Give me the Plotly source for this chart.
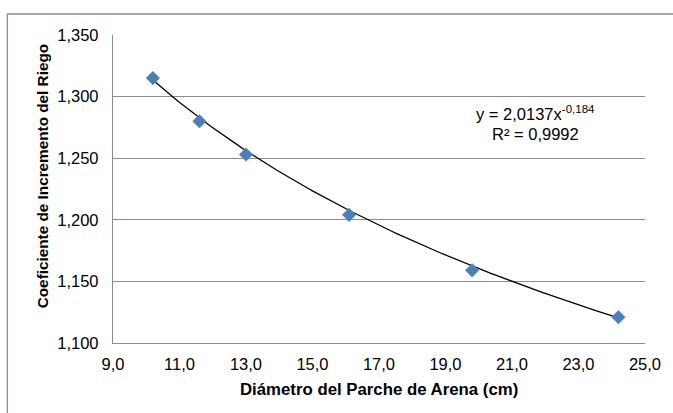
import numpy as np
import plotly.graph_objects as go

# Data
diametro = [10.2, 11.6, 13.0, 16.1, 19.8, 24.2]
coeficiente = [1.315, 1.280, 1.253, 1.204, 1.159, 1.121]

# Power trendline coefficients (y = a * x^b)
fit_a = 2.0137
fit_b = -0.184
r2_text = "R² = 0,9992"
eq_text = "y = 2,0137x<sup>-0,184</sup>"
x_title = "<b>Diámetro del Parche de Arena (cm)</b>"
y_title = "<b>Coeficiente de Incremento del Riego</b>"

x_ticks = [9, 11, 13, 15, 17, 19, 21, 23, 25]
y_ticks = [1.10, 1.15, 1.20, 1.25, 1.30, 1.35]

x_fit = np.linspace(min(diametro), max(diametro), 200)
y_fit = fit_a * x_fit ** fit_b

font_family = "Liberation Sans, Arial, sans-serif"
FS = 16.5
L, R, T, B = 113, 647, 35, 343
PW, PH = R - L, B - T

def px(xp):
    return (xp - L) / PW

def py(yp):
    return (B - yp) / PH

fig = go.Figure()
fig.add_trace(go.Scatter(
    x=x_fit, y=y_fit, mode="lines",
    line=dict(color="black", width=1.3),
    hoverinfo="skip", showlegend=False,
))
fig.add_trace(go.Scatter(
    x=diametro, y=coeficiente, mode="markers",
    marker=dict(symbol="diamond", size=10.5, color="#4a7ebb",
                line=dict(color="#5b8bc5", width=0.5)),
    showlegend=False,
))

fig.update_layout(
    width=673, height=413,
    margin=dict(l=L, r=673 - R, t=T, b=413 - B),
    paper_bgcolor="white", plot_bgcolor="white",
    separators=",.",
    font=dict(family=font_family, size=FS, color="black"),
    showlegend=False,
)
fig.update_xaxes(
    range=[9, 25], tickvals=x_ticks, tickformat=".1f",
    showgrid=False, zeroline=False,
    showline=True, linecolor="#8c8c8c", linewidth=1.3,
    ticks="", ticklabelstandoff=6,
    tickfont=dict(size=FS),
)
fig.update_yaxes(
    range=[1.10, 1.35], tickvals=y_ticks, tickformat=".3f",
    showgrid=True, gridcolor="#8c8c8c", gridwidth=1.3,
    zeroline=False,
    showline=True, linecolor="#8c8c8c", linewidth=1.3,
    ticks="", ticklabelstandoff=10,
    tickfont=dict(size=FS),
)

# outer chart border
fig.add_shape(type="rect", xref="paper", yref="paper",
              x0=px(7), x1=1.2, y0=-0.3, y1=py(14),
              line=dict(color="#8c8c8c", width=1.3), layer="below")

# axis titles
fig.add_annotation(xref="paper", yref="paper", x=px(380), y=py(389),
                   xanchor="center", yanchor="middle",
                   text=x_title, showarrow=False, font=dict(size=16.8))
fig.add_annotation(xref="paper", yref="paper", x=px(42), y=py(176),
                   xanchor="center", yanchor="middle", textangle=-90,
                   text=y_title, showarrow=False, font=dict(size=15.3))

# trendline labels
fig.add_annotation(xref="paper", yref="paper", x=px(537), y=py(113),
                   xanchor="center", yanchor="middle",
                   text=eq_text, showarrow=False, font=dict(size=FS))
fig.add_annotation(xref="paper", yref="paper", x=px(537), y=py(134),
                   xanchor="center", yanchor="middle",
                   text=r2_text, showarrow=False, font=dict(size=FS))

fig.write_html("out.html", config={"displayModeBar": False},
               post_script="document.body.style.margin='0';")
